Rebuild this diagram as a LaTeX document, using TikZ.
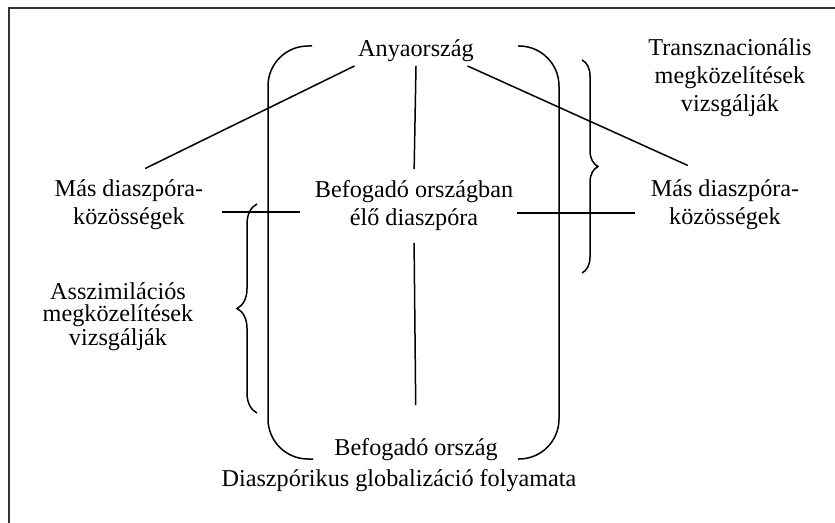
\documentclass[tikz,border=0pt]{standalone}
\usepackage{fontspec}
\setmainfont{Liberation Serif}
\usetikzlibrary{positioning}
\usetikzlibrary{decorations.pathreplacing}

\begin{document}
\begin{tikzpicture}[
    x=0.5pt, y=-0.5pt,
    line width=0.75pt,
    mynode/.style={align=center,inner sep=1.5pt,anchor=base,font=\fontsize{12.1}{14}\selectfont},
    bracket/.style={rounded corners=20pt},
    curly/.style={decorate,decoration={brace,amplitude=#1}}
    ]
    \useasboundingbox (0,0) rectangle (835,523);
    \draw[line width=1pt,black!80] (835,8) -- (9,8) -- (9,523);

    \node[mynode] (anya) at (416,57) {Anyaország};
    \node[mynode] (befo) at (414,226) {Befogadó országban\\élő diaszpóra};
    \node[mynode] (masl) at (129,225) {Más diaszpóra-\\közösségek};
    \node[mynode] (masr) at (725,225) {Más diaszpóra-\\közösségek};
    \node[mynode] (trans) at (730,112) {Transznacionális\\megközelítések\\vizsgálják};
    \node[mynode,font=\fontsize{12.1}{11}\selectfont] (assz) at (118,346) {Asszimilációs\\megközelítések\\vizsgálják};
    \node[mynode] (host) at (416,455) {Befogadó ország};
    \node[mynode] (glob) at (399,487) {Diaszpórikus globalizáció folyamata};

    % zarojelek
    \draw[bracket] (312,46) -- (268,46) -- (268,459) -- (313,459);
    \draw[bracket] (518,46) -- (559,46) -- (559,459) -- (518,459);
    \draw[curly=10pt] (257,413) -- (257,204);
    \draw[curly=8pt] (582,60) -- (582,273);

    \path (anya.south west) edge[shorten >=9pt] (masl.north)
    ([xshift=-5pt]anya.south east) edge[shorten >=13.3pt] ([xshift=-6.5pt]masr.north)
    (anya.south) edge[shorten >=4pt] (befo.north)
    (befo.south) edge[shorten <=4pt,shorten >=14.5pt] (host.north)
    ([yshift=-3.5pt]masl.east) edge[shorten <=7.5pt,shorten >=5.5pt] ([yshift=-3.5pt]masl.east -| befo.west)
    ([yshift=-3.5pt]befo.east) edge[shorten >=6pt] ([yshift=-3.5pt]befo.east -| masr.west)
    ;

\end{tikzpicture}
\end{document}
